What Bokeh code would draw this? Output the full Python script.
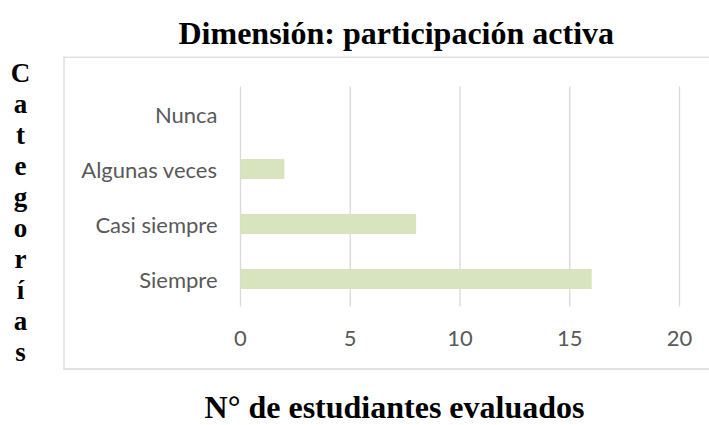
from bokeh.plotting import figure
from bokeh.models import Range1d, ColumnDataSource, Title
from bokeh.core.properties import value
from bokeh.embed import file_html
from bokeh.resources import INLINE

categories = ["Siempre", "Casi siempre", "Algunas veces", "Nunca"]
values = [16, 8, 2, 0]
x_ticks = [0, 5, 10, 15, 20]
x_tick_labels = ["0", "5", "10", "15", "20"]
title_text = "Dimensión: participación activa"
x_label = "N° de estudiantes evaluados"
y_label = "Categorías"

SERIF = "Liberation Serif"
SANS = "Lato"
GRID = "#d9d9d9"

W, H = 709, 425
FRAME_T = 56                      # top of the frame (box top)
BOX_L, BOX_B = 63, 368            # box left / bottom, in px
# inner plot mapping: x=0 at px 240, x=20 at px 679 ; category step 55px, top centre at 113.5
px_per_x = (679 - 240) / 20.0
step = 55.0
top_center = 113.5
n = len(categories)


def dx(px):
    return (px - 240) / px_per_x


def dy(py):
    return (n - 1) - (py - top_center) / step


p = figure(width=W, height=H,
           x_range=Range1d(dx(0), dx(W)), y_range=Range1d(dy(H), dy(FRAME_T)),
           output_backend="svg", toolbar_location=None,
           x_axis_location=None, y_axis_location=None,
           min_border_left=0, min_border_right=0,
           min_border_top=FRAME_T, min_border_bottom=0)
p.outline_line_color = None
p.background_fill_color = "white"
p.border_fill_color = "white"
p.grid.visible = False

# chart box (left, top, bottom edges)
p.segment(x0=[dx(BOX_L + 0.5), dx(BOX_L), dx(BOX_L)],
          y0=[dy(FRAME_T), dy(FRAME_T + 0.5), dy(BOX_B + 0.5)],
          x1=[dx(BOX_L + 0.5), dx(W + 5), dx(W + 5)],
          y1=[dy(BOX_B + 1), dy(FRAME_T + 0.5), dy(BOX_B + 0.5)],
          line_color=GRID, line_width=1.3)

ypos = list(range(n))
# vertical grid lines
p.segment(x0=x_ticks, x1=x_ticks, y0=-0.5, y1=n - 0.5, line_color=GRID, line_width=1.3)

src = ColumnDataSource(dict(y=ypos, val=values, cat=categories))
p.hbar(y="y", left=0, right="val", height=0.36, source=src,
       fill_color="#d7e4bd", line_color=None)

# category labels
p.text(x=dx(217), y="y", text="cat", source=src,
       text_font=value(SANS), text_font_size="22px", text_color="#595959",
       text_align="right", text_baseline="middle")
# value tick labels
p.text(x=x_ticks, y=[dy(338)] * len(x_ticks), text=x_tick_labels,
       text_font=value(SANS), text_font_size="22px", text_color="#595959",
       text_align="center", text_baseline="middle")

# x axis title
p.text(x=[dx(394)], y=[dy(406.5)], text=[x_label],
       text_font=value(SERIF), text_font_style="bold", text_font_size="32px",
       text_color="black", text_align="center", text_baseline="middle")

# stacked vertical category title
p.text(x=[dx(20)], y=[dy(212)], text=["\n".join(y_label)],
       text_font=value(SERIF), text_font_style="bold", text_font_size="27px",
       text_color="black", text_align="center", text_baseline="middle",
       text_line_height=1.034)

p.add_layout(Title(text=title_text, align="left", offset=178, standoff=11,
                   vertical_align="bottom",
                   text_font=SERIF, text_font_style="bold", text_font_size="32px",
                   text_color="black"), "above")

open("out.html", "w").write(file_html(p, INLINE))
